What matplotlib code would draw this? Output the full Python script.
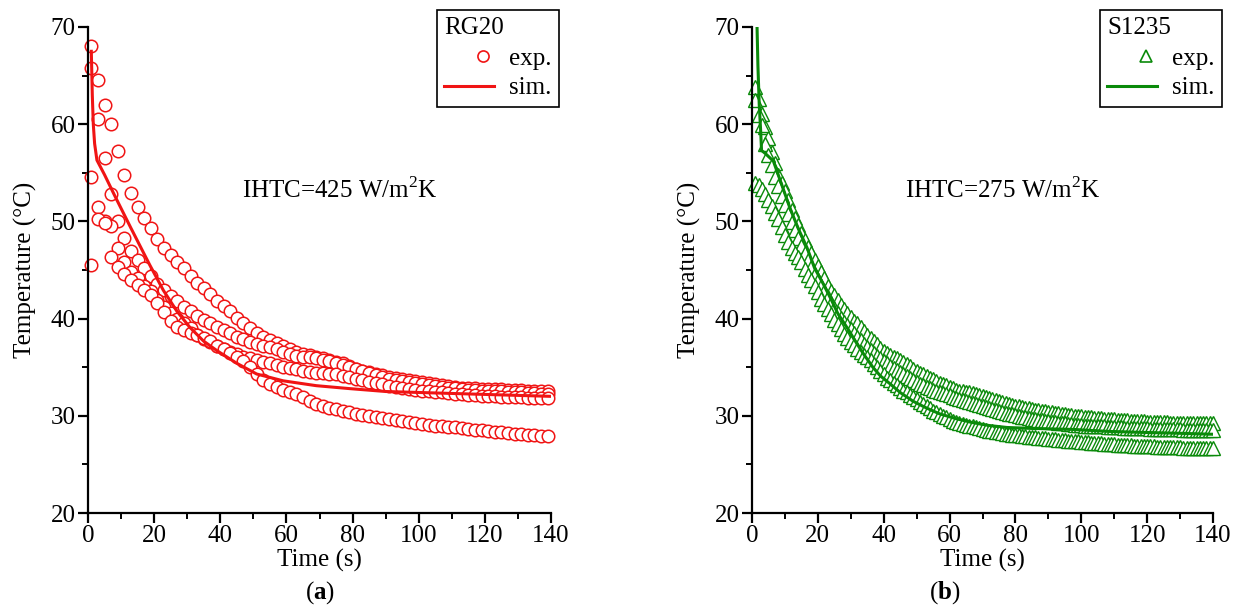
import numpy as np
import matplotlib
matplotlib.use("Agg")
import matplotlib.pyplot as plt
from matplotlib.lines import Line2D
from matplotlib.legend_handler import HandlerLine2D
from matplotlib.ticker import MultipleLocator

plt.rcParams['font.family'] = ['Liberation Serif', 'DejaVu Serif']
plt.rcParams['mathtext.fontset'] = 'custom'
plt.rcParams['mathtext.rm'] = 'Liberation Serif'
plt.rcParams['mathtext.bf'] = 'Liberation Serif:bold'

# ---------------- Panel (a): RG20 ----------------
time_a = [1, 3, 5, 7, 9, 11, 13, 15, 17, 19, 21, 23, 25, 27, 29, 31, 33, 35, 37, 39,
          41, 43, 45, 47, 49, 51, 53, 55, 57, 59, 61, 63, 65, 67, 69, 71, 73, 75, 77, 79,
          81, 83, 85, 87, 89, 91, 93, 95, 97, 99, 101, 103, 105, 107, 109, 111, 113, 115, 117, 119,
          121, 123, 125, 127, 129, 131, 133, 135, 137, 139]
rg20_tc1 = [68.0, 64.5, 62.0, 60.0, 57.2, 54.8, 52.9, 51.5, 50.3, 49.3, 48.2, 47.3, 46.5, 45.8, 45.2, 44.4, 43.7, 43.1, 42.5, 41.8,
            41.3, 40.8, 40.1, 39.5, 39.0, 38.5, 38.1, 37.8, 37.5, 37.2, 36.9, 36.6, 36.4, 36.3, 36.1, 35.9, 35.7, 35.5, 35.4, 35.1,
            34.8, 34.6, 34.5, 34.3, 34.2, 34.0, 33.9, 33.8, 33.7, 33.6, 33.5, 33.4, 33.3, 33.2, 33.1, 33.0, 32.9, 32.9, 32.9, 32.8,
            32.8, 32.8, 32.8, 32.7, 32.7, 32.7, 32.6, 32.6, 32.6, 32.6]
rg20_tc2 = [65.8, 60.5, 56.5, 52.8, 50.0, 48.3, 47.0, 46.0, 45.2, 44.4, 43.6, 42.9, 42.3, 41.8, 41.2, 40.8, 40.3, 39.9, 39.5, 39.1,
            38.8, 38.5, 38.1, 37.9, 37.6, 37.4, 37.2, 37.1, 36.9, 36.6, 36.4, 36.2, 36.1, 36.0, 35.9, 35.7, 35.6, 35.4, 35.2, 35.0,
            34.8, 34.6, 34.4, 34.2, 34.0, 33.8, 33.7, 33.6, 33.5, 33.4, 33.3, 33.2, 33.1, 33.0, 32.9, 32.9, 32.8, 32.7, 32.7, 32.6,
            32.6, 32.5, 32.5, 32.4, 32.4, 32.4, 32.3, 32.3, 32.2, 32.2]
rg20_tc3 = [54.6, 51.5, 50.0, 49.5, 47.3, 45.8, 44.8, 44.2, 43.4, 42.8, 41.9, 41.2, 40.6, 40.0, 39.5, 39.0, 38.3, 37.9, 37.6, 37.2,
            36.9, 36.6, 36.4, 36.1, 35.9, 35.7, 35.5, 35.4, 35.2, 35.0, 34.9, 34.8, 34.6, 34.5, 34.4, 34.4, 34.3, 34.3, 34.1, 34.0,
            33.8, 33.7, 33.5, 33.4, 33.3, 33.1, 33.0, 32.9, 32.8, 32.7, 32.6, 32.5, 32.4, 32.4, 32.3, 32.2, 32.2, 32.1, 32.1, 32.0,
            32.0, 32.0, 31.9, 31.9, 31.9, 31.9, 31.8, 31.8, 31.8, 31.8]
rg20_tc4 = [45.5, 50.2, 49.8, 46.3, 45.3, 44.6, 44.0, 43.5, 42.9, 42.4, 41.6, 40.7, 39.8, 39.1, 38.8, 38.5, 38.3, 38.0, 37.7, 37.2,
            36.9, 36.5, 36.1, 35.6, 35.0, 34.3, 33.7, 33.3, 33.0, 32.7, 32.4, 32.2, 31.9, 31.5, 31.2, 31.0, 30.8, 30.7, 30.5, 30.4,
            30.2, 30.1, 30.0, 29.9, 29.8, 29.7, 29.6, 29.5, 29.4, 29.3, 29.2, 29.1, 29.0, 28.9, 28.8, 28.8, 28.7, 28.6, 28.5, 28.5,
            28.4, 28.3, 28.3, 28.2, 28.1, 28.1, 28.0, 28.0, 27.9, 27.9]
sim_time_a = [1.0, 1.3, 1.6, 2.0, 2.7, 5.0, 8.0, 13.0, 18.7, 22.8, 26.8, 30.8, 34.9, 39.0, 45.0, 51.0,
              59.0, 69.0, 79.0, 90.0, 100.0, 110.0, 120.0, 130.0, 140.0]
sim_rg20 = [67.5, 63.0, 60.0, 58.0, 56.3, 54.8, 52.7, 49.3, 45.5, 42.9, 40.8, 39.1, 37.7, 36.7, 35.4, 34.3,
            33.6, 33.1, 32.8, 32.5, 32.4, 32.3, 32.2, 32.1, 32.0]

# ---------------- Panel (b): S1235 ----------------
time_b = list(range(1, 141))
s1235_tc1 = [63.8, 62.6, 61.0, 59.7, 58.6, 57.1, 56.0, 54.8, 54.0, 53.1,
             52.2, 51.2, 50.4, 49.6, 48.8, 48.1, 47.4, 46.8, 46.0, 45.4,
             44.8, 44.2, 43.4, 42.8, 42.4, 41.9, 41.4, 41.0, 40.6, 40.2,
             39.8, 39.5, 39.1, 38.7, 38.3, 38.0, 37.7, 37.4, 37.0, 36.7,
             36.5, 36.3, 36.1, 35.9, 35.7, 35.5, 35.3, 35.1, 34.8, 34.6,
             34.4, 34.3, 34.1, 33.9, 33.8, 33.6, 33.4, 33.3, 33.2, 33.0,
             32.9, 32.7, 32.6, 32.5, 32.4, 32.4, 32.3, 32.2, 32.1, 32.0,
             31.9, 31.8, 31.7, 31.6, 31.5, 31.4, 31.3, 31.2, 31.1, 31.0,
             31.0, 30.9, 30.8, 30.8, 30.7, 30.6, 30.6, 30.5, 30.5, 30.4,
             30.4, 30.3, 30.3, 30.2, 30.2, 30.1, 30.1, 30.0, 30.0, 30.0,
             29.9, 29.9, 29.9, 29.8, 29.8, 29.8, 29.7, 29.7, 29.7, 29.7,
             29.6, 29.6, 29.6, 29.6, 29.5, 29.5, 29.5, 29.5, 29.5, 29.4,
             29.4, 29.4, 29.4, 29.4, 29.4, 29.4, 29.3, 29.3, 29.3, 29.3,
             29.3, 29.3, 29.3, 29.3, 29.3, 29.3, 29.3, 29.3, 29.3, 29.3]
s1235_tc2 = [62.5, 60.9, 59.9, 58.0, 56.8, 55.8, 54.6, 53.6, 52.6, 51.7,
             50.8, 49.9, 49.1, 48.3, 47.5, 46.8, 46.0, 45.3, 44.6, 44.0,
             43.4, 42.8, 42.2, 41.6, 41.1, 40.6, 40.1, 39.7, 39.3, 38.9,
             38.5, 38.1, 37.8, 37.4, 37.1, 36.8, 36.5, 36.2, 35.9, 35.6,
             35.4, 35.1, 34.9, 34.7, 34.5, 34.3, 34.1, 33.9, 33.7, 33.5,
             33.3, 33.2, 33.0, 32.9, 32.7, 32.6, 32.4, 32.3, 32.2, 32.1,
             31.9, 31.8, 31.7, 31.6, 31.5, 31.4, 31.3, 31.2, 31.1, 31.0,
             30.9, 30.8, 30.7, 30.6, 30.5, 30.4, 30.3, 30.2, 30.2, 30.1,
             30.0, 29.9, 29.9, 29.8, 29.7, 29.7, 29.6, 29.6, 29.5, 29.5,
             29.4, 29.4, 29.3, 29.3, 29.3, 29.2, 29.2, 29.1, 29.1, 29.1,
             29.0, 29.0, 29.0, 28.9, 28.9, 28.9, 28.9, 28.8, 28.8, 28.8,
             28.8, 28.8, 28.7, 28.7, 28.7, 28.7, 28.7, 28.7, 28.7, 28.7,
             28.6, 28.6, 28.6, 28.6, 28.6, 28.6, 28.6, 28.6, 28.6, 28.6,
             28.5, 28.5, 28.5, 28.5, 28.5, 28.5, 28.5, 28.5, 28.5, 28.5]
s1235_tc3 = [54.0, 53.7, 53.3, 52.8, 52.2, 51.6, 50.9, 50.2, 49.4, 48.6,
             47.9, 47.3, 46.8, 46.3, 45.8, 45.1, 44.5, 44.0, 43.4, 42.7,
             42.0, 41.5, 41.0, 40.5, 39.9, 39.4, 38.9, 38.4, 38.0, 37.6,
             37.3, 36.9, 36.6, 36.3, 36.0, 35.7, 35.3, 35.0, 34.6, 34.3,
             33.9, 33.7, 33.4, 33.2, 32.9, 32.6, 32.4, 32.1, 31.9, 31.7,
             31.4, 31.2, 31.0, 30.8, 30.5, 30.4, 30.2, 30.0, 29.9, 29.7,
             29.5, 29.4, 29.3, 29.2, 29.1, 29.0, 28.9, 28.8, 28.7, 28.6,
             28.5, 28.4, 28.4, 28.3, 28.3, 28.2, 28.1, 28.1, 28.0, 28.0,
             28.0, 27.9, 27.9, 27.8, 27.8, 27.8, 27.7, 27.7, 27.7, 27.6,
             27.6, 27.6, 27.5, 27.5, 27.5, 27.4, 27.4, 27.4, 27.4, 27.3,
             27.3, 27.3, 27.2, 27.2, 27.2, 27.2, 27.1, 27.1, 27.1, 27.1,
             27.0, 27.0, 27.0, 27.0, 27.0, 26.9, 26.9, 26.9, 26.9, 26.9,
             26.9, 26.9, 26.8, 26.8, 26.8, 26.8, 26.8, 26.8, 26.8, 26.8,
             26.7, 26.7, 26.7, 26.7, 26.7, 26.7, 26.7, 26.7, 26.7, 26.7]
sim_time_b = [1.4, 1.8, 2.2, 2.6, 2.9, 4.0, 6.5, 9.0, 11.5, 14.0, 16.7, 19.0, 21.6, 24.0, 26.1, 29.0,
              31.9, 34.0, 36.7, 39.0, 41.9, 45.0, 48.9, 53.0, 57.0, 62.0, 67.0, 72.0, 77.4, 85.0,
              97.5, 108.0, 118.0, 130.0, 140.0]
sim_s1235 = [72.0, 66.0, 62.0, 59.5, 57.3, 57.0, 56.2, 53.8, 51.4, 49.3, 47.3, 45.2, 43.6, 42.0, 40.5, 39.0,
             37.4, 36.3, 35.0, 34.1, 33.3, 32.4, 31.5, 30.8, 30.2, 29.7, 29.3, 29.0, 28.8, 28.7,
             28.6, 28.4, 28.3, 28.2, 28.1]

RED = '#f01414'
GREEN = '#0a8a0a'
FS = 18


class OffsetMarkerHandler(HandlerLine2D):
    def get_xdata(self, legend, xdescent, ydescent, width, height, fontsize):
        x = -xdescent + 0.78 * width
        return [x, x], [x]


W, H = 1239, 606
fig = plt.figure(figsize=(W / 100, H / 100), dpi=100)


def px_axes(x0, x1, y0, y1):
    return fig.add_axes([x0 / W, 1 - y1 / H, (x1 - x0) / W, (y1 - y0) / H])


def style(ax):
    ax.set_xlim(0, 140)
    ax.set_ylim(20, 70)
    ax.spines['top'].set_visible(False)
    ax.spines['right'].set_visible(False)
    for s in ('left', 'bottom'):
        ax.spines[s].set_linewidth(1.6)
    ax.xaxis.set_major_locator(MultipleLocator(20))
    ax.xaxis.set_minor_locator(MultipleLocator(10))
    ax.yaxis.set_major_locator(MultipleLocator(10))
    ax.yaxis.set_minor_locator(MultipleLocator(5))
    ax.tick_params(which='major', direction='out', length=7, width=1.6, labelsize=FS, pad=2)
    ax.tick_params(which='minor', direction='out', length=4, width=1.4)
    ax.set_xlabel('Time (s)', fontsize=FS, labelpad=1)
    ax.set_ylabel('Temperature (°C)', fontsize=FS, labelpad=10)


def make_legend(ax, h_exp, h_sim, title, right_px):
    leg = ax.legend([h_exp, h_sim], ['exp.', 'sim.'], title=title, title_fontsize=FS,
                    fontsize=FS, loc='upper right', bbox_to_anchor=(right_px / W, 1 - 10 / H),
                    bbox_transform=fig.transFigure, frameon=True, fancybox=False,
                    edgecolor='black', framealpha=1, handlelength=2.0, handletextpad=0.6,
                    borderpad=0.3, labelspacing=0.3, borderaxespad=0, alignment='left',
                    handler_map={h_exp: OffsetMarkerHandler()})
    leg.get_frame().set_linewidth(1.2)
    return leg


# ---- panel a ----
axa = px_axes(88, 551, 27, 513)
for series in (rg20_tc1, rg20_tc2, rg20_tc3, rg20_tc4):
    axa.plot(time_a, series, linestyle='none', marker='o', markersize=9,
             markerfacecolor='white', markeredgecolor=RED, markeredgewidth=1.1,
             clip_on=False)
axa.plot(sim_time_a, sim_rg20, color=RED, lw=2.2)
style(axa)
axa.text(0.544, 0.665, 'IHTC=425 W/m$^{2}$K', transform=axa.transAxes, fontsize=FS,
         ha='center', va='center')
h_exp = Line2D([], [], linestyle='none', marker='o', markersize=8,
               markerfacecolor='white', markeredgecolor=RED, markeredgewidth=1.2)
h_sim = Line2D([], [], color=RED, lw=2.2)
make_legend(axa, h_exp, h_sim, 'RG20', 559)
fig.text(320 / W, 1 - 593 / H, r'($\mathbf{a}$)', fontsize=FS, ha='center', va='center')

# ---- panel b ----
axb = px_axes(752, 1213, 27, 513)
for series in (s1235_tc1, s1235_tc2, s1235_tc3):
    axb.plot(time_b, series, linestyle='none', marker='^', markersize=9.5,
             markerfacecolor='white', markeredgecolor=GREEN, markeredgewidth=1.0,
             clip_on=False)
axb.plot(sim_time_b, sim_s1235, color=GREEN, lw=2.2)
style(axb)
axb.text(0.545, 0.665, 'IHTC=275 W/m$^{2}$K', transform=axb.transAxes, fontsize=FS,
         ha='center', va='center')
h_exp_b = Line2D([], [], linestyle='none', marker='^', markersize=8,
                 markerfacecolor='white', markeredgecolor=GREEN, markeredgewidth=1.2)
h_sim_b = Line2D([], [], color=GREEN, lw=2.2)
make_legend(axb, h_exp_b, h_sim_b, 'S1235', 1222)
fig.text(945 / W, 1 - 593 / H, r'($\mathbf{b}$)', fontsize=FS, ha='center', va='center')

fig.savefig('out.png', dpi=100)
